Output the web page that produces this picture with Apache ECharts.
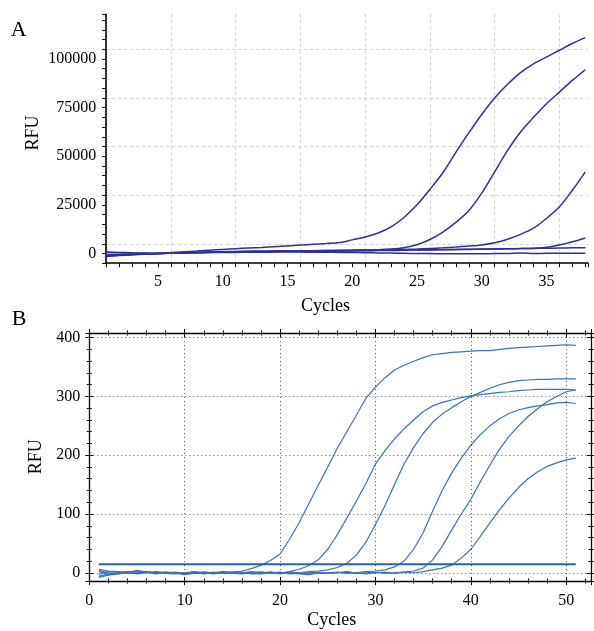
<!DOCTYPE html>
<html>
<head>
<meta charset="utf-8">
<script src="https://cdn.jsdelivr.net/npm/echarts@6/dist/echarts.min.js"></script>
<style>
html,body{margin:0;padding:0;background:#fff;}
#chart{width:594px;height:631px;}
</style>
</head>
<body>
<div id="chart"></div>
<script>
// ---------- Panel A data ----------
const cyclesA = [1,2,3,4,5,6,7,8,9,10,11,12,13,14,15,16,17,18,19,20,21,22,23,24,25,26,27,28,29,30,31,32,33,34,35,36,37,38];
const A1 = [800,550,350,200,100,450,850,1250,1700,2100,2450,2800,3100,3500,3900,4300,4700,5100,5600,7000,8500,10500,13700,18500,25000,33000,41500,52000,62000,71500,80000,87000,93000,97500,101000,104500,108000,111000];
const A2 = [-800,-600,-400,-200,0,200,400,550,700,850,950,1050,1150,1250,1300,1400,1450,1500,1600,1700,1800,1950,2300,3000,4500,7200,11000,16000,22000,31000,42000,53000,62500,70000,77000,83000,89000,94500];
const A3 = [-1000,-700,-450,-200,0,200,400,550,750,900,1000,1100,1150,1250,1300,1350,1400,1500,1550,1600,1700,1800,1950,2100,2300,2600,2900,3300,3800,4400,5500,7300,9800,13000,18000,24000,32500,42000];
const A4 = [500,350,200,100,0,150,300,450,600,800,900,1000,1050,1100,1200,1250,1300,1350,1400,1500,1550,1600,1700,1800,1900,1950,2000,2100,2150,2200,2300,2400,2500,2700,3200,4400,6000,8000];
const A5 = [-1500,-1100,-700,-350,0,150,300,400,550,700,750,800,900,950,1000,1050,1100,1150,1250,1300,1400,1500,1550,1650,1800,1850,1900,2000,2100,2300,2350,2400,2500,2600,2700,2800,2900,3000];
const A6 = [-1200,-900,-600,-300,0,150,250,350,450,500,550,600,650,700,700,700,650,600,550,500,400,300,200,100,0,-50,-100,-100,-100,-100,-50,0,300,0,100,100,100,100];
const seriesA = [A1, A2, A3, A4, A5, A6];
const ticksA_X = [5,10,15,20,25,30,35];
const ticksA_Y = [0,25000,50000,75000,100000];

// ---------- Panel B data ----------
const cyclesB = [1,2,3,4,5,6,7,8,9,10,11,12,13,14,15,16,17,18,19,20,21,22,23,24,25,26,27,28,29,30,31,32,33,34,35,36,37,38,39,40,41,42,43,44,45,46,47,48,49,50,51];
const B1 = [6,3,2,1,3,1,0,1,-1,-2, 0,1,0,1,1,3,7,13,21,32, 57,85,117,149,180,212,240,268,297,316, 332,345,353,360,366,371,373,375,376,377, 378,378,380,382,383,384,385,386,387,388,387];
const B2 = [-6,-2,0,2,1,0,2,0,-1,0, -1,1,0,2,0,-1,0,1,0,-1, 2,6,12,22,40,65,93,122,152,185, 208,228,245,260,274,284,290,294,298,301, 303,305,307,308,310,311,312,312,312,312,311];
const B3 = [4,0,-2,0,4,1,0,-1,0,-3, -1,0,-2,0,-1,-2,0,1,-1,0, 1,0,2,3,5,9,16,30,52,82, 114,150,185,213,237,256,270,281,291,300, 307,314,320,324,327,328,329,329,330,330,330];
const B4 = [-3,2,1,-1,0,2,-1,1,0,-1, 1,-2,0,-1,1,0,2,0,1,-2, 0,-2,-3,0,-1,0,1,0,2,3, 5,10,20,40,68,105,140,170,195,217, 235,250,262,271,277,281,284,286,289,290,288];
const B5 = [2,-3,-1,1,-2,0,1,-1,-2,0, 2,0,-1,1,-1,0,-1,-2,0,1, -1,0,-2,-1,0,1,-1,0,-2,0, 1,-1,1,3,8,22,45,73,100,125, 155,183,210,232,250,266,279,291,300,308,311];
const B6 = [-8,-4,-2,0,-1,1,-2,0,1,-1, 0,-1,1,-1,0,1,-2,-1,1,0, -2,-1,0,1,-1,0,2,-1,0,1, -1,0,1,0,2,5,8,13,25,40, 62,85,107,127,145,160,172,181,187,192,195];
const seriesB = [B1, B2, B3, B4, B5, B6];
const thresholdCycles = [1, 51];
const thresholdValue = 14.5;
const ticksB_X = [0,10,20,30,40,50];
const ticksB_Y = [0,100,200,300,400];

// ---------- build ----------
const FONT = 'Liberation Serif';
const T = 'rgba(0,0,0,0)';
function pairs(xs, ys){ return xs.map((x,i)=>[x, ys[i]]); }

const xAxes = [];
const yAxes = [];

// Panel A axes
xAxes.push({
  gridIndex:0, type:'value', position:'bottom', min:1, max:38.2, interval:1,
  axisLine:{show:true, onZero:false, lineStyle:{color:'#000', width:1.6}},
  axisTick:{show:true, inside:false, length:4, lineStyle:{color:'#000', width:1}},
  axisLabel:{show:true, margin:11, color:'#000', fontFamily:FONT, fontSize:16,
    formatter:v=> ticksA_X.indexOf(v) >= 0 ? String(v) : ''},
  splitLine:{show:true, showMinLine:false, showMaxLine:false,
    lineStyle:{color:[T,T,T,T,'#d2d2d2'], type:[3,3], width:1}}
});
yAxes.push({
  gridIndex:0, type:'value', position:'left', min:-5000, max:123000, interval:5000,
  axisLine:{show:true, onZero:false, lineStyle:{color:'#000', width:1.6}},
  axisTick:{show:true, inside:false, length:4, lineStyle:{color:'#000', width:1}},
  axisLabel:{show:true, margin:10, color:'#000', fontFamily:FONT, fontSize:16,
    formatter:v=> ticksA_Y.indexOf(v) >= 0 ? String(v) : ''},
  splitLine:{show:true, showMinLine:false, showMaxLine:false,
    lineStyle:{color:[T,'#d2d2d2',T,T,T], type:[3,3], width:1}}
});

// Panel B axes (major & minor ticks crossing the frame)
function bX(pos, interval, len, inside, main){
  return {
    gridIndex:1, type:'value', position:pos, min:0, max:52.6, interval:interval,
    axisLine:{show:main, onZero:false, lineStyle:{color:'#000', width:1.3}},
    axisTick:{show:true, inside:inside, length:len, lineStyle:{color:'#000', width:1}},
    axisLabel:{show: main && pos==='bottom', margin:12, color:'#000', fontFamily:FONT, fontSize:16,
      formatter:v=> ticksB_X.indexOf(v) >= 0 ? String(v) : ''},
    splitLine:{show: main && pos==='bottom', showMinLine:false, showMaxLine:false,
      lineStyle:{color:'#555', type:[1,3], width:1}}
  };
}
function bY(pos, split, len, inside, main){
  return {
    gridIndex:1, type:'value', position:pos, min:-14, max:408, splitNumber:split,
    axisLine:{show:main, onZero:false, lineStyle:{color:'#000', width:1.3}},
    axisTick:{show:true, inside:inside, length:len, lineStyle:{color:'#000', width:1}},
    axisLabel:{show: main && pos==='left', margin:9, color:'#000', fontFamily:FONT, fontSize:16,
      formatter:v=> ticksB_Y.indexOf(v) >= 0 ? String(v) : ''},
    splitLine:{show: main && pos==='left', showMinLine:false, showMaxLine:false,
      lineStyle:{color:'#555', type:[1,3], width:1}}
  };
}
['bottom','top'].forEach(p=>{
  xAxes.push(bX(p,10,4,false,true));
  xAxes.push(bX(p,10,4,true,false));
  xAxes.push(bX(p,2,2.5,false,false));
  xAxes.push(bX(p,2,2.5,true,false));
});
['left','right'].forEach(p=>{
  yAxes.push(bY(p,4,4,false,true));
  yAxes.push(bY(p,4,4,true,false));
  yAxes.push(bY(p,21,2.5,false,false));
  yAxes.push(bY(p,21,2.5,true,false));
});

const series = [];
seriesA.forEach((arr,i)=>{
  series.push({type:'line', xAxisIndex:0, yAxisIndex:0, data:pairs(cyclesA, arr),
    symbol:'none', smooth:0.3, lineStyle:{color:'#2e3192', width:1.5}, itemStyle:{color:'#2e3192'}, silent:true});
});
seriesB.forEach((arr,i)=>{
  series.push({type:'line', xAxisIndex:1, yAxisIndex:1, data:pairs(cyclesB, arr),
    symbol:'none', lineStyle:{color:'#3a72b5', width:1.2}, itemStyle:{color:'#3a72b5'}, silent:true});
});
series.push({type:'line', xAxisIndex:1, yAxisIndex:1,
  data: thresholdCycles.map(c=>[c, thresholdValue]),
  symbol:'none', lineStyle:{color:'#2463aa', width:2}, silent:true});

const txt = (t, x, y, size, rot) => ({
  type:'text', x:x, y:y, rotation: rot||0,
  style:{text:t, fontFamily:FONT, fontSize:size, fill:'#000', textAlign:'center', textVerticalAlign:'middle'}
});

const option = {
  animation:false,
  backgroundColor:'#fff',
  grid:[
    {left:106.2, top:14.3, width:481.7, height:248.9, containLabel:false},
    {left:89.3, top:333, width:503.7, height:248, containLabel:false}
  ],
  xAxis:xAxes,
  yAxis:yAxes,
  series:series,
  graphic:[
    txt('A', 18.7, 30, 22),
    txt('B', 19, 319, 22),
    txt('RFU', 33, 133, 18, Math.PI/2),
    txt('Cycles', 325.5, 306, 18),
    txt('RFU', 36.7, 456.7, 18, Math.PI/2),
    txt('Cycles', 331.7, 620, 18)
  ]
};
const chart = echarts.init(document.getElementById('chart'), null, {renderer:'canvas'});
chart.setOption(option);
</script>
</body>
</html>
